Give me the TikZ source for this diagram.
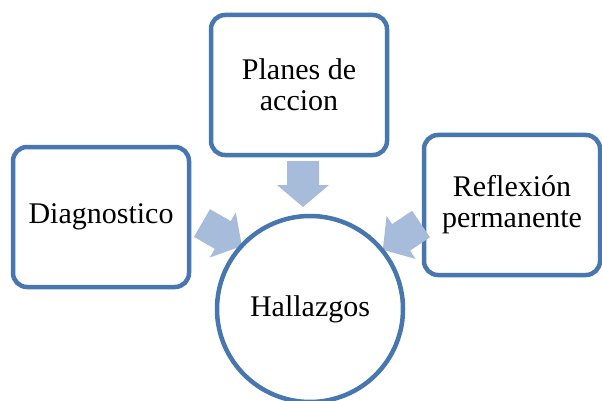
\documentclass[tikz,border=0pt]{standalone}
\usepackage{fontspec}
\setmainfont{Liberation Serif}
\usepackage{xcolor}

\definecolor{boxblue}{RGB}{72,118,175}
\definecolor{arrowblue}{RGB}{167,187,218}

\begin{document}
\begin{tikzpicture}[x=1pt, y=-1pt,
    box/.style={rectangle, draw=boxblue, line width=4.5pt, fill=white, rounded corners=14pt, minimum width=176pt, minimum height=140pt, align=center, font=\fontsize{30}{31}\selectfont},
    hub/.style={circle, draw=boxblue, line width=4.5pt, fill=white, minimum size=186pt, inner sep=0pt, font=\fontsize{30}{31}\selectfont},
    blockarrow/.pic={\fill[arrowblue] (0,-16) -- (24,-16) -- (24,-26) -- (46,0) -- (24,26) -- (24,16) -- (0,16) -- cycle;}]
    \useasboundingbox (0,0) rectangle (602,401);

    % Outer boxes
    \node[box] (diag) at (101,217) {Diagnostico};
    \node[box] (plan) at (299,85) {Planes de\\accion};
    \node[box] (refl) at (512,205) {Reflexión\\permanente};

    % Arrows into the circle
    \pic[rotate=-90] at (303,161) {blockarrow};
    \pic[rotate=-30] at (202,223) {blockarrow};
    \pic[rotate=-146] at (421,224) {blockarrow};

    % Centre circle
    \node[hub] (find) at (310,309) {Hallazgos};

\end{tikzpicture}
\end{document}
